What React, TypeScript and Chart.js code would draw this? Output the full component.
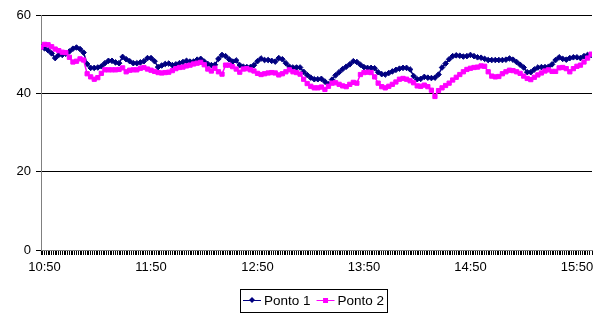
import { useEffect, useRef } from 'react';
import { Chart, registerables } from 'chart.js';

Chart.register(...registerables);

// minutes relative to 10:50, one sample every 2 minutes starting at 10:48
const firstMinute = -2;
const stepMinutes = 2;
const xTickLabels = ['10:50', '11:50', '12:50', '13:50', '14:50', '15:50'];
const yTickValues = [0, 20, 40, 60];
const seriesNames = ['Ponto 1', 'Ponto 2'];

const ponto1 = [
  51.8, 51.5, 51.0, 50.2, 49.0, 49.8, 49.8, 50.1, 50.7, 51.4, 51.7, 51.3, 50.4, 47.5, 46.5, 46.5,
  46.6, 46.9, 47.7, 48.3, 48.3, 47.9, 47.7, 49.3, 48.7, 48.2, 47.7, 47.7, 47.9, 48.2, 49.0, 49.0,
  48.2, 46.7, 47.1, 47.5, 47.6, 47.2, 47.4, 47.7, 48.0, 48.3, 48.1, 48.1, 48.6, 48.8, 48.1, 47.5,
  47.2, 47.3, 48.8, 49.8, 49.5, 48.7, 48.1, 48.4, 47.2, 46.8, 46.7, 46.7, 47.2, 48.2, 48.9, 48.5,
  48.5, 48.3, 48.1, 49.0, 48.7, 47.7, 46.8, 46.6, 46.6, 46.6, 45.5, 44.7, 44.0, 43.6, 43.6, 43.7,
  43.0, 42.3, 43.5, 44.6, 45.4, 46.2, 46.8, 47.4, 48.2, 48.0, 47.3, 46.7, 46.5, 46.5, 46.4, 45.4,
  44.9, 44.8, 45.2, 45.6, 46.0, 46.3, 46.5, 46.5, 46.1, 44.4, 43.6, 43.7, 44.2, 44.0, 43.9, 44.0,
  44.8, 46.6, 47.6, 48.7, 49.5, 49.7, 49.6, 49.4, 49.5, 49.8, 49.5, 49.2, 49.1, 48.8, 48.5, 48.5,
  48.5, 48.5, 48.5, 48.6, 48.9, 48.6, 48.0, 47.3, 46.6, 45.4, 45.4, 46.1, 46.6, 46.7, 46.7, 46.8,
  47.4, 48.5, 49.2, 48.8, 48.6, 49.0, 49.2, 49.2, 49.0, 49.5, 49.8, 49.8,
];

const ponto2 = [
  51.8, 52.5, 52.4, 51.9, 51.3, 50.9, 50.5, 50.4, 49.2, 48.0, 48.2, 48.8, 48.5, 45.0, 44.2, 43.6,
  44.0, 45.1, 46.0, 46.0, 46.0, 46.0, 46.1, 46.5, 45.5, 45.9, 46.0, 46.0, 46.4, 46.6, 46.2, 45.9,
  45.6, 45.3, 45.2, 45.3, 45.4, 45.8, 46.3, 46.6, 46.7, 47.0, 47.2, 47.5, 47.7, 47.9, 47.3, 46.2,
  45.7, 46.4, 45.5, 44.9, 47.2, 47.2, 46.8, 46.2, 45.4, 46.2, 46.3, 46.0, 45.7, 45.1, 44.8, 45.0,
  45.2, 45.3, 45.2, 44.7, 45.0, 45.5, 46.0, 45.5, 45.3, 44.9, 43.6, 42.5, 41.8, 41.4, 41.4, 41.6,
  41.0, 41.8, 42.6, 42.7, 42.3, 41.9, 41.7, 42.3, 42.8, 42.6, 44.8, 45.3, 45.4, 45.3, 44.2, 42.6,
  41.7, 41.4, 41.8, 42.3, 42.9, 43.6, 43.8, 43.6, 43.2, 42.7, 41.9, 41.8, 42.1, 41.7, 40.8, 39.2,
  40.7, 41.4, 42.0, 42.6, 43.4, 44.1, 44.8, 45.5, 46.1, 46.4, 46.6, 46.7, 47.0, 46.9, 45.5, 44.4,
  44.2, 44.3, 45.0, 45.5, 45.9, 45.8, 45.5, 45.1, 44.4, 43.8, 43.5, 44.1, 44.7, 45.2, 45.7, 46.0,
  45.6, 45.6, 46.5, 46.6, 46.3, 45.5, 46.3, 46.9, 47.2, 48.0, 49.0, 50.0,
];

const FONT = '"Liberation Sans", Arial, sans-serif';

const toPoints = (vals: number[]) =>
  vals.map((v, i) => ({ x: firstMinute + i * stepMinutes, y: v }));

const legendBox = {
  id: 'legendBox',
  afterDraw(chart: any) {
    const ctx = chart.ctx as CanvasRenderingContext2D;
    ctx.save();
    ctx.font = `13.5px ${FONT}`;
    const items = chart.data.datasets.map((ds: any) => ({
      label: ds.label as string,
      color: ds.borderColor as string,
      style: ds.pointStyle as string,
      w: ctx.measureText(ds.label).width,
    }));
    const lineLen = 18;
    const gap = 3;
    const itemGap = 6;
    const padX = 3;
    const total =
      padX * 2 +
      items.reduce((s: number, it: any) => s + lineLen + gap + it.w, 0) +
      itemGap * (items.length - 1);
    const cx = 314;
    const cy = 300;
    const h = 23;
    let x = Math.round(cx - total / 2);
    ctx.strokeStyle = '#000';
    ctx.lineWidth = 1;
    ctx.strokeRect(x + 0.5, Math.round(cy - h / 2) + 0.5, Math.round(total), h);
    x += padX;
    items.forEach((it: any) => {
      ctx.strokeStyle = it.color;
      ctx.fillStyle = it.color;
      ctx.lineWidth = 1;
      ctx.beginPath();
      ctx.moveTo(x, cy + 0.5);
      ctx.lineTo(x + lineLen, cy + 0.5);
      ctx.stroke();
      const mx = x + lineLen / 2;
      ctx.beginPath();
      if (it.style === 'rectRot') {
        ctx.moveTo(mx, cy - 3);
        ctx.lineTo(mx + 3, cy);
        ctx.lineTo(mx, cy + 3);
        ctx.lineTo(mx - 3, cy);
        ctx.closePath();
      } else {
        ctx.rect(mx - 2.5, cy - 2, 5, 5);
      }
      ctx.fill();
      x += lineLen + gap;
      ctx.fillStyle = '#000';
      ctx.textBaseline = 'middle';
      ctx.textAlign = 'left';
      ctx.fillText(it.label, x, cy + 1);
      x += it.w + itemGap;
    });
    ctx.restore();
  },
};

export default function App() {
  const ref = useRef<HTMLCanvasElement | null>(null);

  useEffect(() => {
    document.body.style.margin = '0';
    const canvas = ref.current;
    if (!canvas) return;
    const chart = new Chart(canvas, {
      type: 'line',
      data: {
        datasets: [
          {
            label: seriesNames[0],
            data: toPoints(ponto1),
            borderColor: '#000080',
            backgroundColor: '#000080',
            borderWidth: 1.5,
            pointStyle: 'rectRot',
            pointRadius: 2.8,
            pointBorderWidth: 1,
            tension: 0,
            order: 1,
          },
          {
            label: seriesNames[1],
            data: toPoints(ponto2),
            borderColor: '#FF00FF',
            backgroundColor: '#FF00FF',
            borderWidth: 1.5,
            pointStyle: 'rect',
            pointRadius: 3,
            pointBorderWidth: 1,
            tension: 0,
            order: 0,
          },
        ],
      },
      options: {
        responsive: false,
        animation: false,
        events: [],
        layout: { padding: { top: 15, right: 6, left: 0, bottom: 0 } },
        plugins: {
          legend: { display: false },
          tooltip: { enabled: false },
        },
        scales: {
          x: {
            type: 'linear',
            min: -2,
            max: 308.5,
            afterFit: (s: any) => {
              s.height = 66;
            },
            border: { display: true, color: '#808080', width: 1 },
            grid: {
              drawOnChartArea: false,
              drawTicks: true,
              tickLength: 5,
              color: '#000',
            },
            ticks: {
              stepSize: 1,
              autoSkip: false,
              maxRotation: 0,
              minRotation: 0,
              padding: 5,
              color: '#000',
              font: { family: FONT, size: 13 },
              callback: (v: any) => {
                const n = Number(v);
                if (n >= 0 && n % 60 === 0) return xTickLabels[n / 60] ?? '';
                return '';
              },
            },
          },
          y: {
            min: yTickValues[0],
            max: yTickValues[yTickValues.length - 1],
            afterFit: (s: any) => {
              s.width = 41;
            },
            afterBuildTicks: (s: any) => {
              s.ticks = yTickValues.map((v) => ({ value: v }));
            },
            border: { display: true, color: '#808080', width: 1 },
            grid: {
              color: '#000',
              drawTicks: true,
              tickLength: 5,
            },
            ticks: {
              padding: 5,
              color: '#000',
              font: { family: FONT, size: 13 },
            },
          },
        },
      },
      plugins: [legendBox],
    });
    return () => chart.destroy();
  }, []);

  return (
    <div style={{ position: 'absolute', left: 0, top: 0, width: 598, height: 316, background: '#fff' }}>
      <canvas ref={ref} width={598} height={316} />
    </div>
  );
}
